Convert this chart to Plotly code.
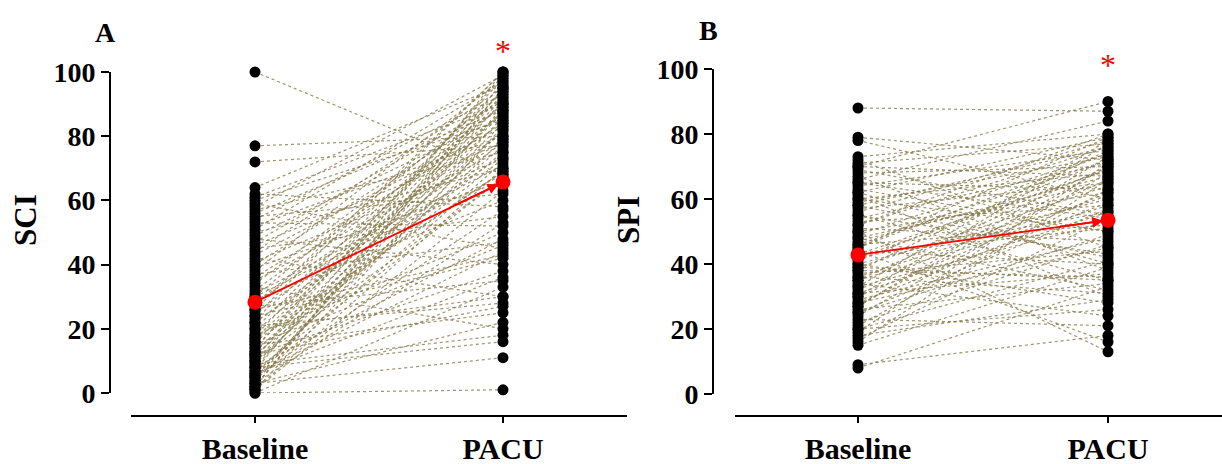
import plotly.graph_objects as go

W, H = 1222, 464

categories = ["Baseline", "PACU"]
y_ticks = [0, 20, 40, 60, 80, 100]

# Panel A: SCI (paired values, baseline -> PACU)
sci_baseline = [100, 77, 72, 64, 62, 61, 60, 59, 58, 57, 56, 55, 54, 53, 52, 51, 50, 49, 48, 47,
                46, 45, 44, 43, 42, 41, 40, 39, 38, 37, 36, 35, 34, 33, 32, 31, 30, 29, 28, 27,
                26, 25, 24, 23, 22, 21, 20, 19, 18, 17, 16, 15, 14, 13, 12, 11, 10, 9, 8, 7,
                6, 5, 4, 3, 2, 1, 0, 0, 1, 2, 3, 4, 5, 6, 7, 8, 9, 10, 11, 12,
                13, 14, 15, 16, 17, 18, 20, 22, 24, 26, 28, 30, 3, 5, 8, 12, 2, 6, 10, 1]
sci_pacu = [68, 80, 77, 96, 58, 90, 85, 45, 99, 75, 88, 62, 93, 52, 80, 97, 70, 86, 40, 91,
            78, 55, 95, 83, 30, 73, 89, 66, 98, 47, 84, 76, 92, 20, 87, 71, 94, 60, 81, 35,
            100, 79, 42, 90, 74, 28, 96, 85, 50, 88, 69, 25, 93, 82, 38, 99, 77, 18, 91, 67,
            44, 86, 72, 11, 95, 83, 1, 33, 63, 97, 22, 89, 57, 79, 100, 16, 84, 67, 92, 27,
            75, 98, 46, 87, 69, 94, 30, 78, 100, 43, 90, 68, 53, 82, 48, 73, 95, 36, 88, 70]
sci_means = [28.3, 65.7]

# Panel B: SPI (paired values, baseline -> PACU)
spi_baseline = [88, 79, 78, 73, 72, 71, 70, 69, 68, 67, 66, 65, 64, 63, 62, 61, 60, 59, 58, 57,
                56, 55, 54, 53, 52, 51, 50, 49, 48, 47, 46, 45, 44, 43, 42, 41, 40, 39, 38, 37,
                36, 35, 34, 33, 32, 31, 30, 29, 28, 27, 26, 25, 24, 23, 22, 21, 20, 19, 18, 17,
                16, 15, 9, 8, 44, 50, 38, 55, 60, 65, 70, 35, 30, 25, 45, 52, 48, 42, 58, 62,
                36, 28, 40, 46, 33, 20, 31, 27, 43, 39]
spi_pacu = [87, 72, 60, 80, 45, 77, 90, 55, 70, 38, 84, 63, 75, 50, 79, 30, 68, 73, 42, 65,
            78, 35, 71, 58, 76, 47, 62, 74, 32, 67, 52, 79, 40, 69, 56, 72, 28, 64, 75, 44,
            61, 70, 24, 53, 66, 37, 77, 48, 59, 73, 34, 57, 68, 21, 46, 63, 41, 71, 29, 54,
            66, 39, 18, 33, 16, 13, 36, 43, 50, 54, 67, 58, 62, 49, 74, 80, 65, 69, 76, 40,
            31, 45, 60, 72, 78, 26, 56, 70, 51, 35]
spi_means = [42.8, 53.5]

FONT = "Liberation Serif"
LINE_COL = "rgba(135,122,75,0.8)"


def px_x(p):
    return p / W


def px_y(p):
    return (H - p) / H


fig = go.Figure()


def add_panel(base, post, means, xa, ya):
    xs, ys = [], []
    for b, p in zip(base, post):
        xs += [0, 1, None]
        ys += [b, p, None]
    fig.add_trace(go.Scatter(x=xs, y=ys, mode="lines", xaxis=xa, yaxis=ya,
                             line=dict(color=LINE_COL, width=1.2, dash="dot"),
                             hoverinfo="skip", showlegend=False))
    fig.add_trace(go.Scatter(x=[0] * len(base) + [1] * len(post), y=list(base) + list(post),
                             mode="markers", xaxis=xa, yaxis=ya, cliponaxis=False,
                             marker=dict(color="black", size=11), showlegend=False))
    fig.add_trace(go.Scatter(x=[0, 1], y=means, mode="lines+markers", xaxis=xa, yaxis=ya,
                             cliponaxis=False,
                             line=dict(color="#ff0000", width=1.8),
                             marker=dict(color="#ff0000", size=15), showlegend=False))


add_panel(sci_baseline, sci_pacu, sci_means, "x", "y")
add_panel(spi_baseline, spi_pacu, spi_means, "x2", "y2")

tickfont_x = dict(family=FONT, size=30, color="black", weight="bold")
tickfont_y = dict(family=FONT, size=28, color="black", weight="bold")

xcommon = dict(tickvals=[0, 1], ticktext=categories, ticks="outside", ticklen=6, tickwidth=2,
               showline=True, linewidth=2, linecolor="black", tickcolor="black",
               showgrid=False, zeroline=False, tickfont=tickfont_x, anchor="free",
               position=px_y(416), fixedrange=True, automargin=False)
ycommon = dict(range=[0, 100], tickvals=y_ticks, ticks="outside", ticklen=8, tickwidth=2,
               showline=True, linewidth=2, linecolor="black", tickcolor="black",
               showgrid=False, zeroline=False, tickfont=tickfont_y, anchor="free",
               fixedrange=True, automargin=False)

fig.update_layout(
    template="none",
    width=W, height=H, margin=dict(l=0, r=0, t=0, b=0, pad=0, autoexpand=False),
    paper_bgcolor="white", plot_bgcolor="white",
    xaxis=dict(xcommon, domain=[px_x(131), px_x(627)], range=[-0.5, 1.5]),
    xaxis2=dict(xcommon, domain=[px_x(735), 1.0], range=[-0.492, 1.456]),
    yaxis=dict(ycommon, domain=[px_y(393), px_y(72)], position=px_x(110)),
    yaxis2=dict(ycommon, domain=[px_y(394), px_y(69)], position=px_x(713)),
)

ann = []
# panel letters
for txt, xp, yp in [("A", 106, 32), ("B", 708, 30)]:
    ann.append(dict(text=txt, x=px_x(xp), y=px_y(yp), xref="paper", yref="paper",
                    xanchor="center", yanchor="middle", showarrow=False,
                    font=dict(family=FONT, size=28, color="black", weight="bold")))
# y titles
for txt, xp, yp in [("SCI", 25, 220), ("SPI", 628, 220)]:
    ann.append(dict(text=txt, x=px_x(xp), y=px_y(yp), xref="paper", yref="paper",
                    xanchor="center", yanchor="middle", textangle=-90, showarrow=False,
                    font=dict(family=FONT, size=31, color="black", weight="bold")))
# significance stars
for xa, yp in [("x", 51), ("x2", 65)]:
    ann.append(dict(text="*", x=1, y=px_y(yp), xref=xa, yref="paper", showarrow=False,
                    xanchor="center", yanchor="middle",
                    font=dict(family=FONT, size=32, color="#ff0000")))
# arrowheads on mean lines
for xa, ya, m in [("x", "y", sci_means), ("x2", "y2", spi_means)]:
    ann.append(dict(x=1, y=m[1], ax=0.8, ay=m[0] + 0.8 * (m[1] - m[0]), xref=xa, yref=ya,
                    axref=xa, ayref=ya, text="", showarrow=True, arrowhead=2, arrowsize=1.2,
                    arrowwidth=1.8, arrowcolor="#ff0000", standoff=5))
fig.update_layout(annotations=ann)

fig.write_html("out.html")
